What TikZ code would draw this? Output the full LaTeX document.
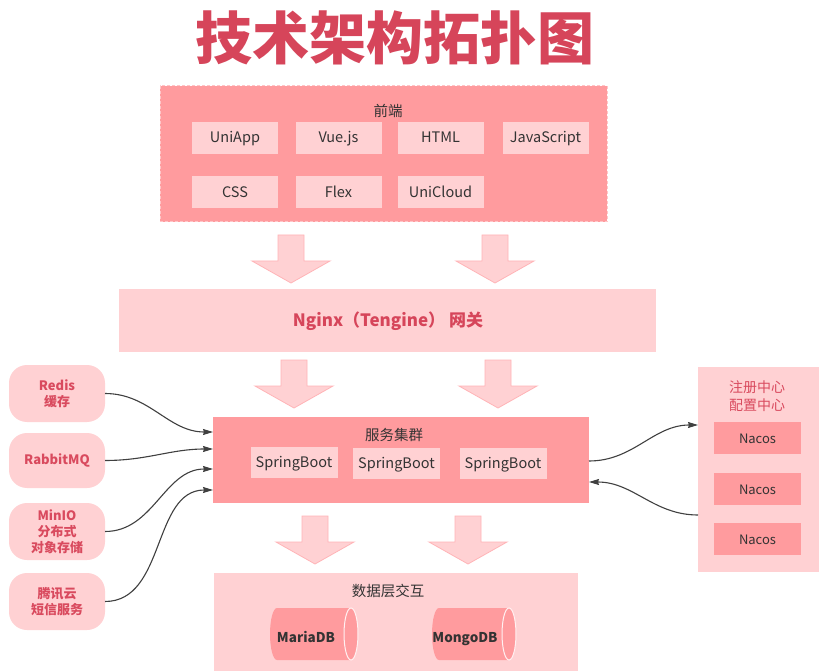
\documentclass[tikz,border=0pt]{standalone}
\usepackage{fontspec}
\setmainfont{Noto Sans CJK SC}
\usetikzlibrary{arrows.meta}
\definecolor{titlered}{HTML}{D6455A}
\definecolor{deep}{HTML}{FF9B9E}
\definecolor{light}{HTML}{FFD1D3}
\definecolor{lightedge}{HTML}{FFB4B7}
\definecolor{txt}{HTML}{333333}
\definecolor{redtxt}{HTML}{D94A5E}
\definecolor{wire}{HTML}{404040}
\definecolor{dashedge}{HTML}{FFC6C8}
\newcommand\fatarrow[2]{%
  \draw[hollow] (#1-13,#2) -- (#1+13,#2) -- (#1+13,#2+26) -- (#1+39,#2+26) -- (#1,#2+48) -- (#1-39,#2+26) -- (#1-13,#2+26) -- cycle;}
\newcommand\dbcyl[2]{%
  \fill[deep] (#2-7,608) -- (#1+7,608) arc[start angle=270,end angle=90,x radius=7,y radius=26] -- (#2-7,660) arc[start angle=90,end angle=-90,x radius=7,y radius=26] -- cycle;
  \draw[white!70!light,line width=1pt] (#2-7,634) ellipse[x radius=7,y radius=26];}
\begin{document}
\begin{tikzpicture}[x=1pt,y=-1pt,
  every node/.style={inner sep=0pt,outer sep=0pt},
  centred/.style={text height=1.1em,text depth=0.1em},
  deepbox/.style={rectangle,fill=deep},
  lightbox/.style={rectangle,fill=light},
  techbox/.style={rectangle,centred,fill=light,minimum width=86,minimum height=32,text=txt,font=\fontsize{14.5}{17}\selectfont},
  sbbox/.style={rectangle,centred,fill=light,minimum width=87,minimum height=31,text=txt,font=\fontsize{14.5}{17}\selectfont},
  nacosbox/.style={rectangle,centred,fill=deep,minimum width=87,minimum height=32,text=txt,font=\fontsize{13}{16}\selectfont},
  sidebox/.style={rectangle,rounded corners=18,fill=light,minimum width=96,text=redtxt,align=center,font=\fontsize{13}{16}\selectfont\bfseries},
  paneltitle/.style={centred,text=txt,font=\fontsize{14.5}{17}\selectfont},
  wirearrow/.style={draw=wire,line width=1.1pt,-{Stealth[length=10pt,width=6pt,inset=1pt]}},
  hollow/.style={fill=light,draw=lightedge,line width=0.8pt},
  dbtext/.style={centred,text=txt,font=\fontsize{13.5}{16}\selectfont\bfseries}
]
\useasboundingbox (0,0) rectangle (825,671);
\fill[white] (0,0) rectangle (825,671);

% title
\node[text=titlered,font=\fontsize{57}{62}\selectfont\bfseries] (title) at (395,38) {技术架构拓扑图};

% front end panel
\node[deepbox,draw=dashedge,line width=1pt,dash pattern=on 3pt off 2pt,minimum width=447,minimum height=136] (front) at (383.5,154) {};
\node[paneltitle] (frontt) at (388,112) {前端};
\node[techbox] (uniapp) at (235,138) {UniApp};
\node[techbox] (vue) at (338.5,138) {Vue.js};
\node[techbox] (html) at (440.5,138) {HTML};
\node[techbox] (js) at (545.5,138) {JavaScript};
\node[techbox] (css) at (235,192.5) {CSS};
\node[techbox] (flex) at (338.5,192.5) {Flex};
\node[techbox] (unicloud) at (440.5,192.5) {UniCloud};

% hollow arrows: center x, top y
\fatarrow{291}{235}
\fatarrow{495}{235}
\fatarrow{294}{360}
\fatarrow{498}{360}
\fatarrow{315}{516}
\fatarrow{468}{516}

% gateway
\node[lightbox,minimum width=537,minimum height=63] (nginx) at (387.5,320.5) {};
\node[centred,text=titlered,font=\fontsize{17}{20}\selectfont\bfseries] (nginxt) at (388,321) {Nginx（Tengine） 网关};

% service cluster
\node[deepbox,minimum width=376,minimum height=86] (cluster) at (401,460) {};
\node[paneltitle] (clustert) at (394,435) {服务集群};
\node[sbbox] (sb1) at (294,462.5) {SpringBoot};
\node[sbbox] (sb2) at (396.5,463) {SpringBoot};
\node[sbbox] (sb3) at (503,463.5) {SpringBoot};

% registry panel
\node[lightbox,minimum width=121,minimum height=205] (reg) at (758.5,469.5) {};
\node[text=redtxt,align=center,font=\fontsize{14}{18}\selectfont] (regt) at (757,396) {注册中心\\配置中心};
\node[nacosbox] (nacos1) at (757.5,438) {Nacos};
\node[nacosbox] (nacos2) at (757.5,489) {Nacos};
\node[nacosbox] (nacos3) at (757.5,539) {Nacos};

% data panel
\node[lightbox,minimum width=364,minimum height=104] (data) at (396,625) {};
\node[paneltitle] (datat) at (388,591) {数据层交互};
\dbcyl{270}{358}
\dbcyl{432}{516}
\node[dbtext] (maria) at (306,637) {MariaDB};
\node[dbtext] (mongo) at (465,637) {MongoDB};

% side services
\node[sidebox,minimum height=57] (redis) at (57,393.5) {Redis\\缓存};
\node[sidebox,minimum height=55] (rabbit) at (57,460.5) {RabbitMQ};
\node[sidebox,minimum height=57] (minio) at (57,531.5) {MinIO\\分布式\\对象存储};
\node[sidebox,minimum height=57] (sms) at (57,601.5) {腾讯云\\短信服务};

\coordinate (in1) at (213,432);
\coordinate (in2) at (213,449);
\coordinate (in3) at (213,469);
\coordinate (in4) at (213,490);
\draw[wirearrow] (redis.east) to[out=0,in=180] (in1);
\draw[wirearrow] (rabbit.east) to[out=0,in=180] (in2);
\draw[wirearrow] (minio.east) to[out=0,in=180] (in3);
\draw[wirearrow] (sms.east) to[out=0,in=180] (in4);

\coordinate (out1) at (589,461);
\coordinate (regin) at (698,425);
\coordinate (regout) at (698,515);
\coordinate (in5) at (589,482);
\draw[wirearrow] (out1) to[out=0,in=180] (regin);
\draw[wirearrow] (regout) to[out=180,in=0] (in5);
\end{tikzpicture}
\end{document}
